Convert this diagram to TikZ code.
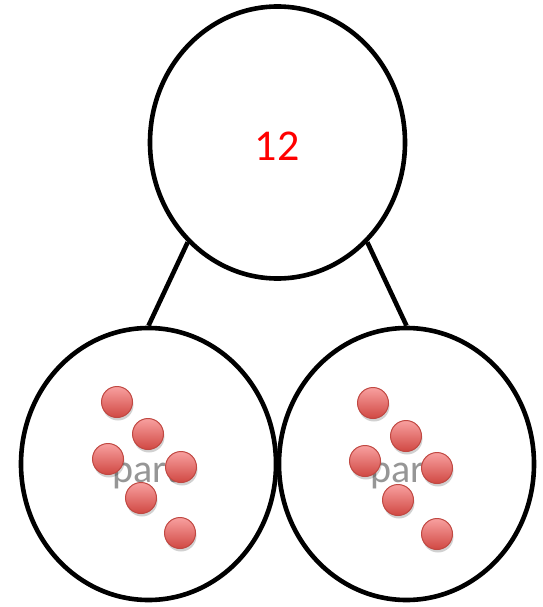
\documentclass[tikz,border=0pt]{standalone}
\usepackage{fontspec}
\setmainfont{Carlito}
\usetikzlibrary{shapes.geometric}
\definecolor{dottop}{RGB}{248,160,160}
\definecolor{dotbot}{RGB}{208,72,66}
\definecolor{dotedge}{RGB}{192,72,66}
\definecolor{partgray}{RGB}{150,150,150}
\tikzset{
  bigcircle/.style={ellipse, draw=black, line width=4.6pt, fill=white, minimum width=255pt, minimum height=272pt, inner sep=0pt},
  link/.style={line width=4.6pt, black},
  counter/.style={circle, minimum size=31pt, inner sep=0pt, draw=dotedge, line width=1pt, top color=dottop, bottom color=dotbot},
  dotshadow/.style={circle, minimum size=31pt, inner sep=0pt, fill=black, opacity=0.18},
  parttext/.style={anchor=base west, text=partgray, font=\fontsize{40pt}{40pt}\selectfont, inner sep=0pt},
}
\begin{document}
\begin{tikzpicture}[x=1pt,y=-1pt]
\useasboundingbox (0,0) rectangle (542,607);
\node[bigcircle] (top) at (277.5,142.5) {};
\node[bigcircle] (left) at (148.5,464) {};
\node[bigcircle] (right) at (406.5,464) {};
\draw[link] (top.228) -- (left.north);
\draw[link] (top.-48) -- (right.north);
\node[text=red, font=\fontsize{44pt}{44pt}\selectfont, inner sep=0pt] (num) at (277,146) {12};
\node[parttext] (pl) at (112,482.5) {part};
\node[parttext] (pr) at (370,482.5) {part};
\foreach \n/\x/\y in {a/117/402, b/148/434, c/108/459, d/181/467, e/141/498, f/180/533,
                      g/373/403, h/406/436, i/365/461, j/437/468, k/398/500, l/437/534}{
  \node[dotshadow] (s\n) at (\x+1,\y+3) {};
  \node[counter] (d\n) at (\x,\y) {};
}
\end{tikzpicture}
\end{document}
